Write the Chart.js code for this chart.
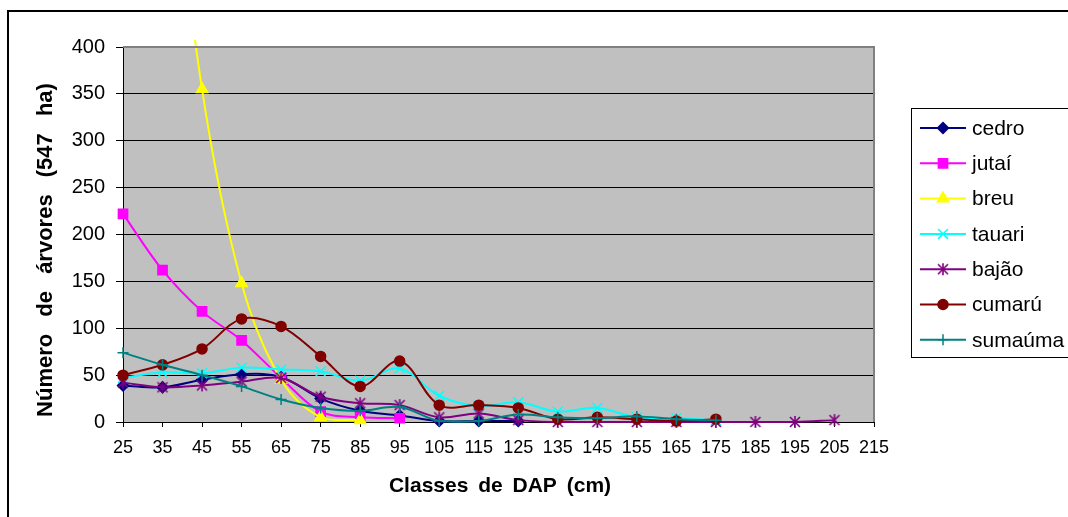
<!DOCTYPE html>
<html>
<head>
<meta charset="utf-8">
<script src="https://cdn.jsdelivr.net/npm/chart.js@4.4.1/dist/chart.umd.min.js"></script>
<style>
  html, body { margin: 0; padding: 0; background: #ffffff; }
  #wrap { width: 1068px; height: 517px; }
</style>
</head>
<body>
<div id="wrap"><canvas id="c" width="1068" height="517"></canvas></div>
<script>
// ---- data ----
const classes = ['25','35','45','55','65','75','85','95','105','115','125','135','145','155','165','175','185','195','205','215'];
const seriesNames = ['cedro', 'jutaí', 'breu', 'tauari', 'bajão', 'cumarú', 'sumaúma'];
const cedro   = [39, 37, 45, 51, 48, 25, 12, 7, 1, 1, 1, null, null, null, null, null, null, null, null, null];
const jutai   = [222, 162, 118, 87, 47, 11, 5, 4, null, null, null, null, null, null, null, null, null, null, null, null];
const breu    = [null, 700, 355, 148, 45, 5, 2, null, null, null, null, null, null, null, null, null, null, null, null, null];
const tauari  = [47, 53, 52, 58, 56, 54, 44, 57, 28, 17, 21, 11, 15, 5, 4, 2, null, null, null, null];
const bajao   = [42, 37, 39, 43, 47, 27, 20, 18, 5, 9, 2, 0, 0, 0, 0, 0, 0, 0, 2, null];
const cumaru  = [50, 61, 78, 110, 102, 70, 38, 65, 18, 18, 15, 3, 5, 3, 1, 3, null, null, null, null];
const sumauma = [74, 61, 50, 38, 24, 15, 12, 16, 1, 1, 8, 5, 4, 6, 3, 2, null, null, null, null];
const yTicks = [0, 50, 100, 150, 200, 250, 300, 350, 400];

const FONT = "'Liberation Sans', Arial, sans-serif";

// asterisk marker (X + vertical bar) like the spreadsheet's "*" marker
function makeAsterisk(color) {
  const s = 14, cv = document.createElement('canvas');
  cv.width = s; cv.height = s;
  const g = cv.getContext('2d');
  g.strokeStyle = color; g.lineWidth = 1.6;
  g.beginPath();
  g.moveTo(2, 2); g.lineTo(s - 2, s - 2);
  g.moveTo(s - 2, 2); g.lineTo(2, s - 2);
  g.moveTo(s / 2, 1); g.lineTo(s / 2, s - 1);
  g.stroke();
  return cv;
}

const styles = [
  { color: '#000080', point: 'rectRot', r: 5.5 },
  { color: '#FF00FF', point: 'rect', r: 6.5 },
  { color: '#FFFF00', point: 'triangle', r: 6.5 },
  { color: '#00FFFF', point: 'crossRot', r: 7 },
  { color: '#800080', point: makeAsterisk('#800080'), r: 7 },
  { color: '#800000', point: 'circle', r: 5 },
  { color: '#008080', point: 'cross', r: 5.5 }
];
const allData = [cedro, jutai, breu, tauari, bajao, cumaru, sumauma];

const datasets = allData.map((d, i) => ({
  label: seriesNames[i],
  data: d,
  borderColor: styles[i].color,
  backgroundColor: styles[i].color,
  pointBackgroundColor: styles[i].color,
  pointBorderColor: styles[i].color,
  pointStyle: styles[i].point,
  pointRadius: styles[i].r,
  pointBorderWidth: 1.5,
  borderWidth: 2,
  tension: 0.35,
  spanGaps: false,
  order: 6 - i,
  clip: { left: 10, top: 7, right: 10, bottom: 10 }
}));

const decorPlugin = {
  id: 'decor',
  beforeDraw(chart) {
    const { ctx, chartArea: a } = chart;
    ctx.save();
    ctx.fillStyle = '#ffffff';
    ctx.fillRect(0, 0, chart.width, chart.height);
    ctx.fillStyle = '#C0C0C0';
    ctx.fillRect(a.left, a.top, a.right - a.left, a.bottom - a.top);
    ctx.restore();
  },
  afterDraw(chart) {
    const { ctx, chartArea: a } = chart;
    ctx.save();
    // plot area border (top / right)
    ctx.strokeStyle = '#808080';
    ctx.lineWidth = 2;
    ctx.beginPath();
    ctx.moveTo(a.left, a.top);
    ctx.lineTo(a.right, a.top);
    ctx.lineTo(a.right, a.bottom);
    ctx.stroke();

    // outer chart frame
    ctx.fillStyle = '#000000';
    ctx.fillRect(7, 10, chart.width, 2);
    ctx.fillRect(7, 10, 2, chart.height);

    // axis titles
    ctx.fillStyle = '#000000';
    ctx.font = "bold 21px " + FONT;
    ctx.textAlign = 'center';
    ctx.textBaseline = 'alphabetic';
    try { ctx.wordSpacing = '4px'; } catch (e) {}
    ctx.fillText('Classes de DAP (cm)', 500, 492);
    ctx.save();
    ctx.translate(52, 250);
    ctx.rotate(-Math.PI / 2);
    ctx.font = "bold 22px " + FONT;
    try { ctx.wordSpacing = '11px'; } catch (e) {}
    ctx.fillText('Número de árvores (547 ha)', 0, 0);
    ctx.restore();
    try { ctx.wordSpacing = '0px'; } catch (e) {}

    // legend
    ctx.strokeStyle = '#000000';
    ctx.lineWidth = 1;
    ctx.strokeRect(911.5, 108.5, 300, 249);
    ctx.font = "21px " + FONT;
    ctx.textAlign = 'left';
    ctx.textBaseline = 'middle';
    chart.data.datasets.forEach((ds, i) => {
      const y = 128 + i * 35.3;
      ctx.strokeStyle = ds.borderColor;
      ctx.lineWidth = 2;
      ctx.beginPath();
      ctx.moveTo(920, y);
      ctx.lineTo(966, y);
      ctx.stroke();
      ctx.fillStyle = ds.borderColor;
      ctx.strokeStyle = ds.borderColor;
      ctx.lineWidth = 1.5;
      Chart.helpers.drawPoint(ctx, { pointStyle: ds.pointStyle, rotation: 0, radius: ds.pointRadius, borderWidth: 1.5 }, 943, y);
      ctx.fillStyle = '#000000';
      ctx.fillText(ds.label, 972, y + 1);
    });
    ctx.restore();
  }
};

new Chart(document.getElementById('c'), {
  type: 'line',
  data: { labels: classes, datasets },
  plugins: [decorPlugin],
  options: {
    responsive: false,
    animation: false,
    devicePixelRatio: 1,
    layout: { padding: { top: 47, right: 194, left: 0, bottom: 0 } },
    plugins: { legend: { display: false }, tooltip: { enabled: false }, title: { display: false } },
    scales: {
      x: {
        type: 'category',
        offset: false,
        afterFit(s) { s.height = 95; },
        grid: { drawOnChartArea: false, color: '#000000', tickLength: 5, tickWidth: 1 },
        border: { color: '#000000', width: 1 },
        ticks: { color: '#000000', font: { family: FONT, size: 18 }, padding: 10, autoSkip: false, maxRotation: 0 }
      },
      y: {
        min: 0, max: 400,
        afterFit(s) { s.width = 123; },
        afterBuildTicks(s) { s.ticks = yTicks.map(v => ({ value: v })); },
        grid: { color: (c) => (c.tick && c.tick.value === 400 ? '#808080' : '#000000'), lineWidth: 1, tickLength: 7, tickColor: '#000000' },
        border: { color: '#000000', width: 1 },
        ticks: { color: '#000000', font: { family: FONT, size: 20 }, padding: 11 }
      }
    }
  }
});
</script>
</body>
</html>
